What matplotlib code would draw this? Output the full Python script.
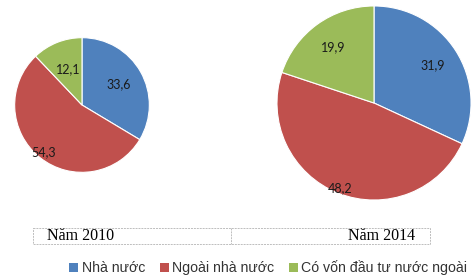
import numpy as np
import matplotlib.pyplot as plt
from matplotlib.patches import Patch, Rectangle

W, H = 474, 279

categories = ["Nhà nước", "Ngoài nhà nước", "Có vốn đầu tư nước ngoài"]
colors = ["#4F81BD", "#C0504D", "#9BBB59"]
values_2010 = [33.6, 54.3, 12.1]
values_2014 = [31.9, 48.2, 19.9]
years = ["Năm 2010", "Năm 2014"]

# label distance from centre (fraction of radius), Excel "best fit" look
label_dist_2010 = [0.62, 0.90, 0.57]
label_dist_2014 = [0.72, 0.94, 0.71]


def px_axes(fig, cx, cy, r):
    return fig.add_axes([(cx - r) / W, (H - cy - r) / H, 2 * r / W, 2 * r / H])


def draw_pie(ax, values, dists):
    wedges, _ = ax.pie(values, colors=colors, startangle=90, counterclock=False,
                       radius=1.0, wedgeprops=dict(edgecolor="white", linewidth=0.8))
    for w, v, d in zip(wedges, values, dists):
        ang = np.deg2rad((w.theta1 + w.theta2) / 2)
        ax.text(d * np.cos(ang), d * np.sin(ang), f"{v:.1f}".replace(".", ","),
                ha="center", va="center", fontsize=9, family="Lato", color="#1a1a1a")
    ax.set_xlim(-1.01, 1.01)
    ax.set_ylim(-1.01, 1.01)
    ax.set_aspect("equal")
    ax.axis("off")


fig = plt.figure(figsize=(W / 100, H / 100), dpi=100)
fig.patch.set_facecolor("white")

draw_pie(px_axes(fig, 82, 105, 68), values_2010, label_dist_2010)
draw_pie(px_axes(fig, 374, 103, 98), values_2014, label_dist_2014)

# year caption box
ov = fig.add_axes([0, 0, 1, 1], zorder=-1)
ov.set_xlim(0, W)
ov.set_ylim(H, 0)
ov.axis("off")
ov.add_patch(Rectangle((33, 228), 397, 16, fill=False, edgecolor="#bdbdbd",
                       linestyle=(0, (2, 1)), linewidth=0.7))
ov.plot([231, 231], [228, 244], color="#bdbdbd", linestyle=(0, (2, 1)), linewidth=0.7)
ov.text(47, 236, years[0], ha="left", va="center", fontsize=11.5, family="Liberation Serif")
ov.text(415, 236, years[1], ha="right", va="center", fontsize=11.5, family="Liberation Serif")

handles = [Patch(facecolor=c, edgecolor="none") for c in colors]
fig.legend(handles, categories, loc="center", bbox_to_anchor=(0.566, 0.04), ncol=3,
           frameon=False, handlelength=0.65, handleheight=0.65,
           handletextpad=0.25, columnspacing=1.0, borderaxespad=0,
           prop=dict(family="Liberation Sans", size=10.2))
for t in fig.legends[0].get_texts():
    t.set_color("#333333")

fig.savefig("out.png", dpi=100)
